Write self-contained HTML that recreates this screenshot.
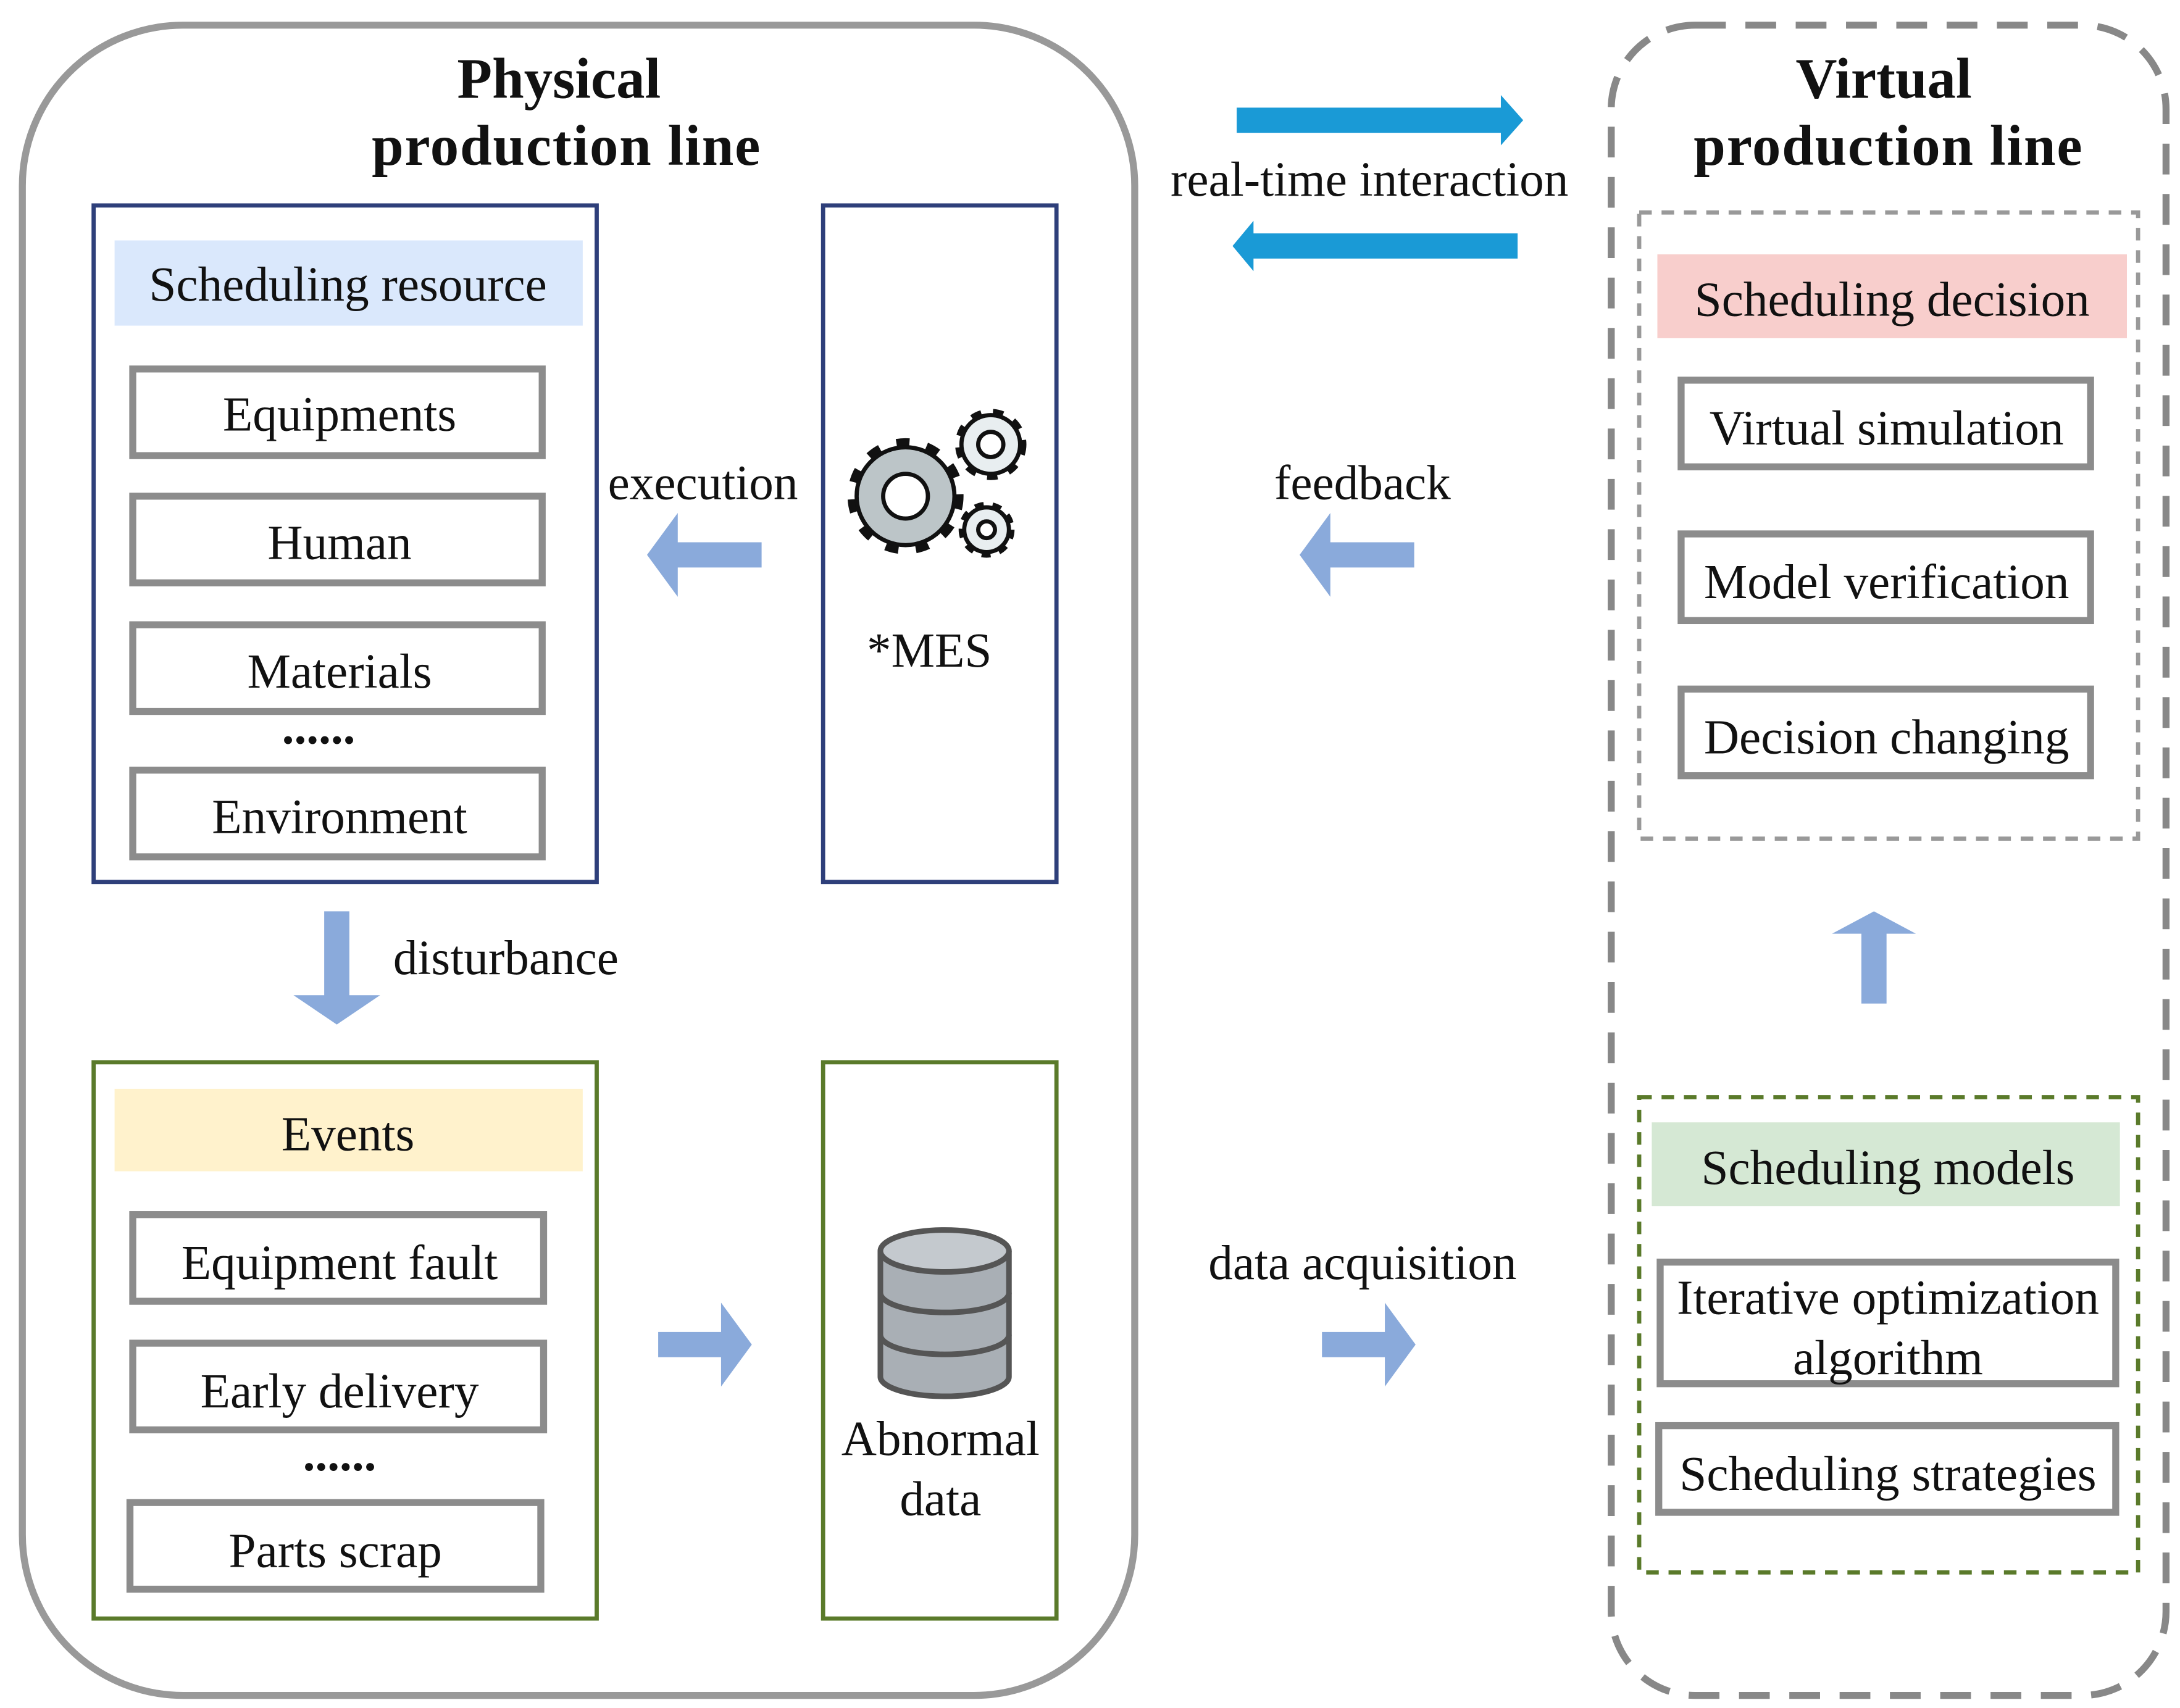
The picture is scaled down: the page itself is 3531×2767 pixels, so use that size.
<!DOCTYPE html>
<html><head><meta charset="utf-8"><style>
html,body{margin:0;padding:0;background:#fff;}
svg{display:block;}
text{font-family:"Liberation Serif",serif;fill:#111;}
</style></head><body>
<svg width="3531" height="2767" viewBox="0 0 1560 1222" preserveAspectRatio="none" xmlns="http://www.w3.org/2000/svg">
<!-- left outer -->
<rect x="16" y="18" width="796" height="1195" rx="115" ry="115" fill="none" stroke="#999" stroke-width="5"/>
<text x="400" y="70" font-size="41" font-weight="bold" text-anchor="middle">Physical</text>
<text x="405" y="118" font-size="41" font-weight="bold" text-anchor="middle" textLength="278">production line</text>
<!-- right outer -->
<rect x="1153" y="18" width="397" height="1195" rx="60" ry="60" fill="none" stroke="#888" stroke-width="5" stroke-dasharray="22 14"/>
<text x="1348" y="70" font-size="41" font-weight="bold" text-anchor="middle">Virtual</text>
<text x="1351" y="118" font-size="41" font-weight="bold" text-anchor="middle" textLength="278">production line</text>

<!-- scheduling resource -->
<rect x="67" y="147" width="360" height="484" fill="none" stroke="#2e3f7a" stroke-width="3"/>
<rect x="82" y="172" width="335" height="61" fill="#dae8fc"/>
<text x="249" y="215" font-size="35" text-anchor="middle">Scheduling resource</text>
<g fill="none" stroke="#8c8c8c" stroke-width="5">
<rect x="95" y="264" width="293" height="62"/>
<rect x="95" y="355" width="293" height="62"/>
<rect x="95" y="447" width="293" height="62"/>
<rect x="95" y="551" width="293" height="62"/>
<rect x="95" y="869" width="294" height="62"/>
<rect x="95" y="961" width="294" height="62"/>
<rect x="93" y="1075" width="294" height="62"/>
</g>
<g font-size="35" text-anchor="middle">
<text x="243" y="308">Equipments</text>
<text x="243" y="400">Human</text>
<text x="243" y="492">Materials</text>
<text x="228" y="532" font-weight="bold">......</text>
<text x="243" y="596">Environment</text>
<text x="243" y="915">Equipment fault</text>
<text x="243" y="1007">Early delivery</text>
<text x="243" y="1052" font-weight="bold">......</text>
<text x="240" y="1121">Parts scrap</text>
</g>

<!-- MES -->
<rect x="589" y="147" width="167" height="484" fill="none" stroke="#2e3f7a" stroke-width="3"/>
<g stroke="#111">
<circle cx="648" cy="355" r="37" fill="none" stroke-width="9" stroke-dasharray="9 12"/>
<circle cx="648" cy="355" r="35" fill="#bcc5c8" stroke-width="3"/>
<circle cx="648" cy="355" r="16" fill="#fff" stroke-width="3"/>
<circle cx="709" cy="318" r="22" fill="none" stroke-width="7" stroke-dasharray="7 8"/>
<circle cx="709" cy="318" r="21" fill="#e8eef0" stroke-width="3"/>
<circle cx="709" cy="318" r="9" fill="#fff" stroke-width="3"/>
<circle cx="706" cy="379" r="17" fill="none" stroke-width="6" stroke-dasharray="6 6"/>
<circle cx="706" cy="379" r="16" fill="#e8eef0" stroke-width="3"/>
<circle cx="706" cy="379" r="6" fill="#fff" stroke-width="3"/>
</g>
<text x="665" y="477" font-size="35" text-anchor="middle">*MES</text>

<!-- Events -->
<rect x="67" y="760" width="360" height="398" fill="none" stroke="#5a7a2a" stroke-width="3"/>
<rect x="82" y="779" width="335" height="59" fill="#fff2cc"/>
<text x="249" y="823" font-size="35" text-anchor="middle">Events</text>

<!-- Abnormal data -->
<rect x="589" y="760" width="167" height="398" fill="none" stroke="#5a7a2a" stroke-width="3"/>
<g stroke="#555" stroke-width="4" fill="#a9afb5">
<path d="M630,895 L630,985 A46,14 0 0 0 722,985 L722,895"/>
<ellipse cx="676" cy="895" rx="46" ry="15" fill="#c4c9ce"/>
<path d="M630,925 A46,14 0 0 0 722,925 M630,955 A46,14 0 0 0 722,955" fill="none"/>
</g>
<text x="673" y="1041" font-size="35" text-anchor="middle">Abnormal</text>
<text x="673" y="1084" font-size="35" text-anchor="middle">data</text>

<!-- arrows -->
<polygon points="545,388 485,388 485,367 463,397 485,427 485,406 545,406" fill="#8aaadb"/>
<polygon points="1012,388 952,388 952,367 930,397 952,427 952,406 1012,406" fill="#8aaadb"/>
<polygon points="232,652 250,652 250,712 272,712 241,733 210,712 232,712" fill="#8aaadb"/>
<polygon points="471,953 516,953 516,932 538,962 516,992 516,971 471,971" fill="#8aaadb"/>
<polygon points="946,953 991,953 991,932 1013,962 991,992 991,971 946,971" fill="#8aaadb"/>
<polygon points="1332,718 1350,718 1350,668 1371,668 1341,652 1311,668 1332,668" fill="#8aaadb"/>
<text x="503" y="357" font-size="35" text-anchor="middle">execution</text>
<text x="975" y="357" font-size="35" text-anchor="middle">feedback</text>
<text x="362" y="697" font-size="35" text-anchor="middle">disturbance</text>
<text x="975" y="915" font-size="35" text-anchor="middle">data acquisition</text>

<!-- real-time -->
<polygon points="885,77 1074,77 1074,68 1090,86 1074,104 1074,95 885,95" fill="#1a9ad6"/>
<polygon points="1086,167 897,167 897,158 882,176 897,194 897,185 1086,185" fill="#1a9ad6"/>
<text x="980" y="140" font-size="35" text-anchor="middle">real-time interaction</text>

<!-- scheduling decision -->
<rect x="1173" y="152" width="357" height="448" fill="none" stroke="#999" stroke-width="3" stroke-dasharray="9 7"/>
<rect x="1186" y="182" width="336" height="60" fill="#f8cecc"/>
<text x="1354" y="226" font-size="35" text-anchor="middle">Scheduling decision</text>
<g fill="none" stroke="#8c8c8c" stroke-width="5">
<rect x="1203" y="272" width="293" height="62"/>
<rect x="1203" y="382" width="293" height="62"/>
<rect x="1203" y="493" width="293" height="62"/>
<rect x="1188" y="903" width="326" height="87"/>
<rect x="1187" y="1020" width="327" height="62"/>
</g>
<g font-size="35" text-anchor="middle">
<text x="1350" y="318">Virtual simulation</text>
<text x="1350" y="428">Model verification</text>
<text x="1350" y="539">Decision changing</text>
<text x="1351" y="940">Iterative optimization</text>
<text x="1351" y="983">algorithm</text>
<text x="1351" y="1066">Scheduling strategies</text>
</g>

<!-- scheduling models -->
<rect x="1173" y="785" width="357" height="340" fill="none" stroke="#5a7a2a" stroke-width="3" stroke-dasharray="9 7"/>
<rect x="1182" y="803" width="335" height="60" fill="#d5e8d4"/>
<text x="1351" y="847" font-size="35" text-anchor="middle">Scheduling models</text>
</svg>
</body></html>
